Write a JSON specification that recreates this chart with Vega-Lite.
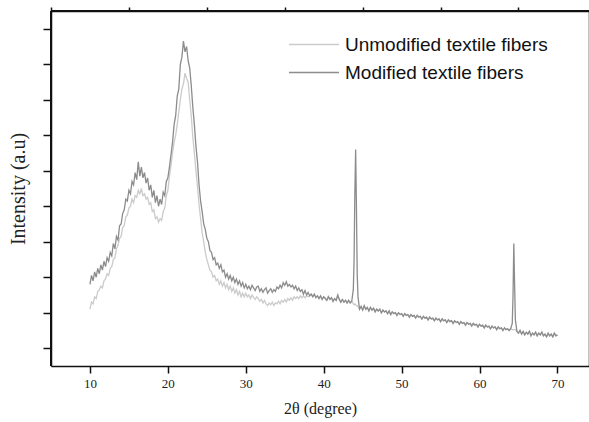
{
  "$schema": "https://vega.github.io/schema/vega-lite/v6.json",
  "width": 538,
  "height": 355,
  "autosize": {"type": "none"},
  "padding": {"left": 51, "top": 11, "right": 0, "bottom": 56},
  "background": "white",
  "config": {
    "view": {"stroke": null},
    "axis": {"domainColor": "#111", "domainWidth": 1.5, "tickColor": "#111", "tickWidth": 1.5, "grid": false, "labelColor": "#222", "titleColor": "#222", "titleFontWeight": "normal"}
  },
  "data": {"values": [
    {"x":10.0,"u":3.2,"m":4.6},{"x":10.2,"u":3.6,"m":5.1},{"x":10.4,"u":3.5,"m":4.8},{"x":10.6,"u":3.9,"m":5.3},{"x":10.8,"u":3.8,"m":5.0},
    {"x":11.0,"u":4.2,"m":5.5},{"x":11.2,"u":4.3,"m":5.2},{"x":11.4,"u":4.5,"m":5.7},{"x":11.6,"u":4.4,"m":5.4},{"x":11.8,"u":4.8,"m":5.9},
    {"x":12.0,"u":4.9,"m":5.6},{"x":12.2,"u":5.2,"m":6.1},{"x":12.4,"u":5.1,"m":5.9},{"x":12.6,"u":5.5,"m":6.4},{"x":12.8,"u":5.6,"m":6.2},
    {"x":13.0,"u":6.0,"m":6.9},{"x":13.2,"u":6.1,"m":6.6},{"x":13.4,"u":6.6,"m":7.3},{"x":13.6,"u":6.8,"m":7.1},{"x":13.8,"u":7.2,"m":7.9},
    {"x":14.0,"u":7.3,"m":8.0},{"x":14.2,"u":7.8,"m":8.6},{"x":14.4,"u":7.9,"m":8.8},{"x":14.6,"u":8.4,"m":9.4},{"x":14.8,"u":8.5,"m":9.3},
    {"x":15.0,"u":8.9,"m":9.9},{"x":15.2,"u":9.0,"m":9.7},{"x":15.4,"u":9.4,"m":10.4},{"x":15.6,"u":9.2,"m":10.2},{"x":15.8,"u":9.6,"m":10.9},
    {"x":16.0,"u":9.5,"m":10.5},{"x":16.2,"u":9.9,"m":11.5},{"x":16.4,"u":9.7,"m":10.7},{"x":16.6,"u":10.0,"m":11.2},{"x":16.8,"u":9.6,"m":10.6},
    {"x":17.0,"u":9.7,"m":10.9},{"x":17.2,"u":9.4,"m":10.3},{"x":17.4,"u":9.5,"m":10.6},{"x":17.6,"u":9.1,"m":9.9},{"x":17.8,"u":9.2,"m":10.2},
    {"x":18.0,"u":8.7,"m":9.5},{"x":18.2,"u":8.8,"m":9.9},{"x":18.4,"u":8.3,"m":9.2},{"x":18.6,"u":8.4,"m":9.6},{"x":18.8,"u":8.1,"m":9.0},
    {"x":19.0,"u":8.3,"m":9.4},{"x":19.2,"u":8.2,"m":9.1},{"x":19.4,"u":8.7,"m":9.8},{"x":19.6,"u":8.9,"m":9.6},{"x":19.8,"u":9.6,"m":10.4},
    {"x":20.0,"u":9.9,"m":10.6},{"x":20.2,"u":10.7,"m":11.2},{"x":20.4,"u":11.3,"m":11.9},{"x":20.6,"u":12.0,"m":12.6},{"x":20.8,"u":12.6,"m":13.6},
    {"x":21.0,"u":13.0,"m":14.1},{"x":21.2,"u":13.6,"m":15.2},{"x":21.4,"u":14.3,"m":15.6},{"x":21.6,"u":15.0,"m":17.0},{"x":21.8,"u":15.6,"m":17.4},
    {"x":22.0,"u":15.9,"m":18.3},{"x":22.2,"u":16.5,"m":17.7},{"x":22.4,"u":16.2,"m":18.0},{"x":22.6,"u":16.0,"m":17.2},{"x":22.8,"u":15.0,"m":16.8},
    {"x":23.0,"u":14.1,"m":15.8},{"x":23.2,"u":12.9,"m":14.6},{"x":23.4,"u":12.0,"m":13.6},{"x":23.6,"u":11.0,"m":12.4},{"x":23.8,"u":10.1,"m":11.5},
    {"x":24.0,"u":9.1,"m":10.2},{"x":24.2,"u":8.3,"m":9.3},{"x":24.4,"u":7.5,"m":8.7},{"x":24.6,"u":7.0,"m":8.0},{"x":24.8,"u":6.4,"m":7.7},
    {"x":25.0,"u":6.0,"m":7.2},{"x":25.2,"u":5.7,"m":7.0},{"x":25.4,"u":5.4,"m":6.5},{"x":25.6,"u":5.3,"m":6.4},{"x":25.8,"u":5.0,"m":6.0},
    {"x":26.0,"u":5.1,"m":6.1},{"x":26.2,"u":4.8,"m":5.7},{"x":26.4,"u":4.9,"m":5.8},{"x":26.6,"u":4.6,"m":5.5},{"x":26.8,"u":4.8,"m":5.7},
    {"x":27.0,"u":4.5,"m":5.3},{"x":27.2,"u":4.7,"m":5.4},{"x":27.4,"u":4.4,"m":5.0},{"x":27.6,"u":4.6,"m":5.2},{"x":27.8,"u":4.3,"m":4.9},
    {"x":28.0,"u":4.5,"m":5.1},{"x":28.2,"u":4.2,"m":4.8},{"x":28.4,"u":4.4,"m":5.0},{"x":28.6,"u":4.1,"m":4.7},{"x":28.8,"u":4.3,"m":4.9},
    {"x":29.0,"u":4.0,"m":4.6},{"x":29.2,"u":4.2,"m":4.8},{"x":29.4,"u":3.9,"m":4.5},{"x":29.6,"u":4.1,"m":4.7},{"x":29.8,"u":3.9,"m":4.4},
    {"x":30.0,"u":4.1,"m":4.6},{"x":30.2,"u":3.9,"m":4.35},{"x":30.4,"u":4.0,"m":4.5},{"x":30.6,"u":3.8,"m":4.3},{"x":30.8,"u":4.0,"m":4.55},
    {"x":31.0,"u":3.85,"m":4.4},{"x":31.2,"u":3.75,"m":4.25},{"x":31.4,"u":3.9,"m":4.45},{"x":31.6,"u":3.8,"m":4.5},{"x":31.8,"u":3.65,"m":4.2},
    {"x":32.0,"u":3.75,"m":4.35},{"x":32.2,"u":3.55,"m":4.15},{"x":32.4,"u":3.7,"m":4.3},{"x":32.6,"u":3.5,"m":4.4},{"x":32.8,"u":3.4,"m":4.1},
    {"x":33.0,"u":3.55,"m":4.25},{"x":33.2,"u":3.45,"m":4.35},{"x":33.4,"u":3.6,"m":4.15},{"x":33.6,"u":3.4,"m":4.3},{"x":33.8,"u":3.55,"m":4.2},
    {"x":34.0,"u":3.5,"m":4.45},{"x":34.2,"u":3.65,"m":4.35},{"x":34.4,"u":3.5,"m":4.55},{"x":34.6,"u":3.7,"m":4.4},{"x":34.8,"u":3.6,"m":4.7},
    {"x":35.0,"u":3.75,"m":4.55},{"x":35.2,"u":3.6,"m":4.75},{"x":35.4,"u":3.8,"m":4.5},{"x":35.6,"u":3.7,"m":4.6},{"x":35.8,"u":3.85,"m":4.45},
    {"x":36.0,"u":3.7,"m":4.55},{"x":36.2,"u":3.9,"m":4.35},{"x":36.4,"u":3.8,"m":4.5},{"x":36.6,"u":3.9,"m":4.25},{"x":36.8,"u":3.8,"m":4.4},
    {"x":37.0,"u":3.95,"m":4.2},{"x":37.2,"u":3.85,"m":4.3},{"x":37.4,"u":3.95,"m":4.05},{"x":37.6,"u":3.85,"m":4.25},{"x":37.8,"u":3.95,"m":4.0},
    {"x":38.0,"u":3.9,"m":4.15},{"x":38.2,"u":3.95,"m":3.95},{"x":38.4,"u":4.05,"m":4.05},{"x":38.6,"u":3.9,"m":3.9},{"x":38.8,"u":4.05,"m":4.05},
    {"x":39.0,"u":3.85,"m":3.85},{"x":39.2,"u":3.95,"m":3.95},{"x":39.4,"u":3.8,"m":3.8},{"x":39.6,"u":3.95,"m":3.95},{"x":39.8,"u":3.75,"m":3.75},
    {"x":40.0,"u":3.9,"m":3.9},{"x":40.2,"u":3.8,"m":3.8},{"x":40.4,"u":3.7,"m":3.7},{"x":40.6,"u":3.9,"m":3.9},{"x":40.8,"u":3.75,"m":3.75},
    {"x":41.0,"u":3.85,"m":3.85},{"x":41.2,"u":3.65,"m":3.65},{"x":41.4,"u":3.8,"m":3.8},{"x":41.6,"u":3.7,"m":3.7},{"x":41.8,"u":4.0,"m":4.0},
    {"x":42.0,"u":3.75,"m":3.75},{"x":42.2,"u":3.6,"m":3.6},{"x":42.4,"u":3.75,"m":3.75},{"x":42.6,"u":3.6,"m":3.6},{"x":42.8,"u":3.7,"m":3.7},
    {"x":43.0,"u":3.55,"m":3.55},{"x":43.2,"u":3.7,"m":3.7},{"x":43.4,"u":3.55,"m":3.55},{"x":43.6,"u":3.65,"m":3.65},
    {"x":43.8,"u":3.5,"m":4.3},{"x":43.9,"u":3.45,"m":6.0},{"x":44.0,"u":3.5,"m":9.8},{"x":44.1,"u":3.45,"m":12.2},{"x":44.2,"u":3.4,"m":9.0},
    {"x":44.3,"u":3.4,"m":5.2},{"x":44.4,"u":3.35,"m":3.9},{"x":44.6,"u":3.2,"m":3.2},{"x":44.8,"u":3.35,"m":3.35},
    {"x":45.0,"u":3.15,"m":3.15},{"x":45.2,"u":3.4,"m":3.4},{"x":45.4,"u":3.2,"m":3.2},{"x":45.6,"u":3.3,"m":3.3},{"x":45.8,"u":3.1,"m":3.1},
    {"x":46.0,"u":3.3,"m":3.3},{"x":46.2,"u":3.15,"m":3.15},{"x":46.4,"u":3.25,"m":3.25},{"x":46.6,"u":3.05,"m":3.05},{"x":46.8,"u":3.2,"m":3.2},
    {"x":47.0,"u":3.1,"m":3.1},{"x":47.2,"u":3.2,"m":3.2},{"x":47.4,"u":3.0,"m":3.0},{"x":47.6,"u":3.15,"m":3.15},{"x":47.8,"u":3.05,"m":3.05},
    {"x":48.0,"u":3.1,"m":3.1},{"x":48.2,"u":2.95,"m":2.95},{"x":48.4,"u":3.1,"m":3.1},{"x":48.6,"u":2.9,"m":2.9},{"x":48.8,"u":3.05,"m":3.05},
    {"x":49.0,"u":2.95,"m":2.95},{"x":49.2,"u":3.0,"m":3.0},{"x":49.4,"u":2.85,"m":2.85},{"x":49.6,"u":3.0,"m":3.0},{"x":49.8,"u":2.9,"m":2.9},
    {"x":50.0,"u":2.95,"m":2.95},{"x":50.2,"u":2.8,"m":2.8},{"x":50.4,"u":2.95,"m":2.95},{"x":50.6,"u":2.85,"m":2.85},{"x":50.8,"u":2.9,"m":2.9},
    {"x":51.0,"u":2.75,"m":2.75},{"x":51.2,"u":2.9,"m":2.9},{"x":51.4,"u":2.8,"m":2.8},{"x":51.6,"u":2.85,"m":2.85},{"x":51.8,"u":2.7,"m":2.7},
    {"x":52.0,"u":2.85,"m":2.85},{"x":52.2,"u":2.75,"m":2.75},{"x":52.4,"u":2.8,"m":2.8},{"x":52.6,"u":2.65,"m":2.65},{"x":52.8,"u":2.8,"m":2.8},
    {"x":53.0,"u":2.7,"m":2.7},{"x":53.2,"u":2.75,"m":2.75},{"x":53.4,"u":2.6,"m":2.6},{"x":53.6,"u":2.75,"m":2.75},{"x":53.8,"u":2.65,"m":2.65},
    {"x":54.0,"u":2.7,"m":2.7},{"x":54.2,"u":2.55,"m":2.55},{"x":54.4,"u":2.7,"m":2.7},{"x":54.6,"u":2.6,"m":2.6},{"x":54.8,"u":2.65,"m":2.65},
    {"x":55.0,"u":2.5,"m":2.5},{"x":55.2,"u":2.65,"m":2.65},{"x":55.4,"u":2.55,"m":2.55},{"x":55.6,"u":2.6,"m":2.6},{"x":55.8,"u":2.45,"m":2.45},
    {"x":56.0,"u":2.6,"m":2.6},{"x":56.2,"u":2.5,"m":2.5},{"x":56.4,"u":2.55,"m":2.55},{"x":56.6,"u":2.4,"m":2.4},{"x":56.8,"u":2.55,"m":2.55},
    {"x":57.0,"u":2.45,"m":2.45},{"x":57.2,"u":2.5,"m":2.5},{"x":57.4,"u":2.35,"m":2.35},{"x":57.6,"u":2.5,"m":2.5},{"x":57.8,"u":2.4,"m":2.4},
    {"x":58.0,"u":2.45,"m":2.45},{"x":58.2,"u":2.3,"m":2.3},{"x":58.4,"u":2.45,"m":2.45},{"x":58.6,"u":2.35,"m":2.35},{"x":58.8,"u":2.4,"m":2.4},
    {"x":59.0,"u":2.25,"m":2.25},{"x":59.2,"u":2.4,"m":2.4},{"x":59.4,"u":2.3,"m":2.3},{"x":59.6,"u":2.35,"m":2.35},{"x":59.8,"u":2.2,"m":2.2},
    {"x":60.0,"u":2.35,"m":2.35},{"x":60.2,"u":2.25,"m":2.25},{"x":60.4,"u":2.3,"m":2.3},{"x":60.6,"u":2.15,"m":2.15},{"x":60.8,"u":2.3,"m":2.3},
    {"x":61.0,"u":2.2,"m":2.2},{"x":61.2,"u":2.25,"m":2.25},{"x":61.4,"u":2.1,"m":2.1},{"x":61.6,"u":2.25,"m":2.25},{"x":61.8,"u":2.15,"m":2.15},
    {"x":62.0,"u":2.2,"m":2.2},{"x":62.2,"u":2.05,"m":2.05},{"x":62.4,"u":2.2,"m":2.2},{"x":62.6,"u":2.1,"m":2.1},{"x":62.8,"u":2.15,"m":2.15},
    {"x":63.0,"u":2.0,"m":2.0},{"x":63.2,"u":2.15,"m":2.15},{"x":63.4,"u":2.05,"m":2.05},{"x":63.6,"u":2.1,"m":2.1},{"x":63.8,"u":2.0,"m":2.0},
    {"x":64.0,"u":2.1,"m":2.1},{"x":64.2,"u":2.05,"m":2.4},{"x":64.3,"u":2.05,"m":4.0},{"x":64.4,"u":2.05,"m":6.9},{"x":64.5,"u":2.05,"m":4.6},
    {"x":64.6,"u":2.05,"m":2.6},{"x":64.8,"u":1.95,"m":1.95},{"x":65.0,"u":1.85,"m":1.85},{"x":65.2,"u":2.0,"m":2.0},{"x":65.4,"u":1.8,"m":1.8},
    {"x":65.6,"u":1.95,"m":1.95},{"x":65.8,"u":1.75,"m":1.75},{"x":66.0,"u":1.9,"m":1.9},{"x":66.2,"u":1.8,"m":1.8},{"x":66.4,"u":1.95,"m":1.95},
    {"x":66.6,"u":1.7,"m":1.7},{"x":66.8,"u":1.85,"m":1.85},{"x":67.0,"u":1.75,"m":1.75},{"x":67.2,"u":1.9,"m":1.9},{"x":67.4,"u":1.7,"m":1.7},
    {"x":67.6,"u":1.85,"m":1.85},{"x":67.8,"u":1.75,"m":1.75},{"x":68.0,"u":1.9,"m":1.9},{"x":68.2,"u":1.7,"m":1.7},{"x":68.4,"u":1.8,"m":1.8},
    {"x":68.6,"u":1.65,"m":1.65},{"x":68.8,"u":1.85,"m":1.85},{"x":69.0,"u":1.7,"m":1.7},{"x":69.2,"u":1.8,"m":1.8},{"x":69.4,"u":1.65,"m":1.65},
    {"x":69.6,"u":1.85,"m":1.85},{"x":69.8,"u":1.7,"m":1.7},{"x":70.0,"u":1.75,"m":1.75}
  ]},
  "resolve": {"axis": {"x": "independent", "y": "independent"}},
  "layer": [
    {
      "transform": [{"fold": ["u", "m"], "as": ["s", "y"]}],
      "mark": {"type": "line", "strokeWidth": 1.3, "interpolate": "linear"},
      "encoding": {
        "x": {"field": "x", "type": "quantitative", "scale": {"domain": [5, 74.05], "nice": false},
          "axis": {"values": [10, 20, 30, 40, 50, 60, 70], "tickSize": 7, "labelPadding": 4, "labelFont": "Liberation Serif", "labelFontSize": 13, "title": "2θ (degree)", "titleFont": "Liberation Serif", "titleFontSize": 16, "titlePadding": 10}},
        "y": {"field": "y", "type": "quantitative", "scale": {"domain": [0, 20], "nice": false, "zero": false},
          "axis": {"values": [1, 3, 5, 7, 9, 11, 13, 15, 17, 19], "tickSize": 8, "labels": false, "title": "Intensity (a.u)", "titleFont": "Liberation Serif", "titleFontSize": 20, "titlePadding": 14}},
        "color": {"field": "s", "type": "nominal",
          "scale": {"domain": ["u", "m"], "range": ["#cbcbcb", "#8c8c8c"]},
          "legend": {"title": null, "orient": "none", "legendX": 237, "legendY": 24, "padding": 0, "symbolType": "stroke", "symbolSize": 2500, "symbolStrokeWidth": 1.5, "clipHeight": 19, "rowPadding": 8, "labelFont": "Liberation Sans", "labelFontSize": 19, "labelColor": "#111", "labelOffset": 5, "labelLimit": 400,
            "labelExpr": "datum.label == 'u' ? 'Unmodified textile fibers' : 'Modified textile fibers'"}}
      }
    },
    {
      "mark": {"type": "rule", "color": "#111", "strokeWidth": 1.5},
      "encoding": {
        "y": {"datum": 20, "type": "quantitative", "axis": null}
      }
    },
    {
      "mark": {"type": "rule", "color": "#111", "strokeWidth": 1.5},
      "encoding": {
        "x": {"datum": 5, "type": "quantitative",
          "axis": {"values": [5, 15, 25, 35, 45, 55, 65], "tickSize": 4, "labels": false, "title": null}},
        "y": {"datum": 0, "type": "quantitative",
          "axis": {"values": [0, 2, 4, 6, 8, 10, 12, 14, 16, 18, 20], "tickSize": 5, "labels": false, "title": null}},
        "y2": {"datum": 20}
      }
    }
  ]
}
